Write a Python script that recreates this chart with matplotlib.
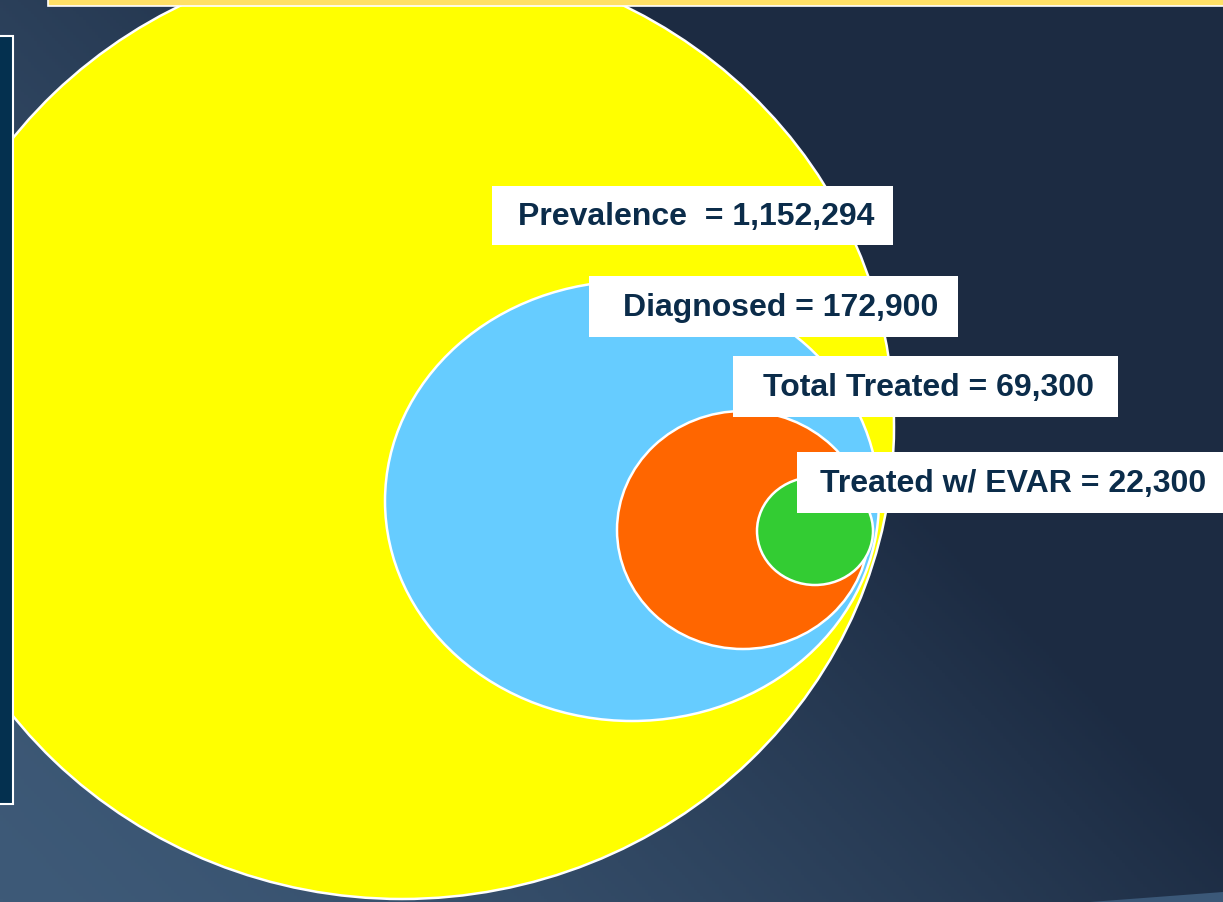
import matplotlib
matplotlib.use("Agg")
import matplotlib.pyplot as plt
import numpy as np
from matplotlib.patches import Ellipse, Rectangle, Polygon

# funnel stages, outermost first
stages = ['Prevalence ', 'Diagnosed', 'Total Treated', 'Treated w/ EVAR']
counts = [1152294, 172900, 69300, 22300]
colors = ['#ffff00', '#66ccff', '#ff6600', '#33cc33']

# ellipse geometry in pixels: centre x, centre y, half width, half height
cx = [402, 632, 743, 815]
cy = [428, 502, 531, 532]
rx = [492, 247, 126, 58]
ry = [472, 220, 119, 54]

# label boxes: left, top, right, bottom, text start
box_l = [492, 589, 733, 797]
box_t = [187, 277, 357, 453]
box_r = [893, 958, 1118, 1223]
box_b = [246, 338, 418, 514]
text_x = [518, 623, 763, 820]

W, H = 1223, 903
fig = plt.figure(figsize=(W / 100, H / 100), dpi=100)
ax = fig.add_axes([0, 0, 1, 1])
ax.set_xlim(0, W)
ax.set_ylim(H, 0)
ax.axis('off')

# slide background: light in the lower left, dark navy towards the upper right
xx, yy = np.meshgrid(np.linspace(0, 1, 400), np.linspace(0, 1, 300))
f = np.clip(0.94 * xx + 0.66 * (1 - yy), 0, 1) ** 1.4
dark = np.array([0x1c, 0x2b, 0x42]) / 255
light = np.array([0x3e, 0x5a, 0x78]) / 255
bg = light + (dark - light) * f[..., None]
ax.imshow(bg, extent=[0, W, H, 0], aspect='auto', zorder=0)
ax.add_patch(Polygon([[1090, H], [W, 893], [W, H]], closed=True,
                     facecolor='#3b5878', edgecolor='none', zorder=1))

for i in range(len(stages)):
    ax.add_patch(Ellipse((cx[i], cy[i]), 2 * rx[i], 2 * ry[i],
                         facecolor=colors[i], edgecolor='white',
                         linewidth=1.8, zorder=2 + i))

for i in range(len(stages)):
    ax.add_patch(Rectangle((box_l[i], box_t[i]), box_r[i] - box_l[i],
                           box_b[i] - box_t[i], facecolor='white',
                           edgecolor='none', zorder=10))
    ax.text(text_x[i], (box_t[i] + box_b[i]) / 2 + 1,
            f"{stages[i]} = {counts[i]:,}", fontsize=23,
            fontweight='bold', family='Liberation Sans', color='#0b2c4a',
            ha='left', va='center', zorder=11)

# title strip at the top and side panel on the left
ax.add_patch(Rectangle((48, -5), W, 12, facecolor='#ffe066',
                       edgecolor='white', linewidth=1.2, zorder=12))
ax.add_patch(Rectangle((-5, 37), 18, 768, facecolor='#04304f',
                       edgecolor='white', linewidth=1.5, zorder=12))

fig.savefig('out.png', dpi=100)
